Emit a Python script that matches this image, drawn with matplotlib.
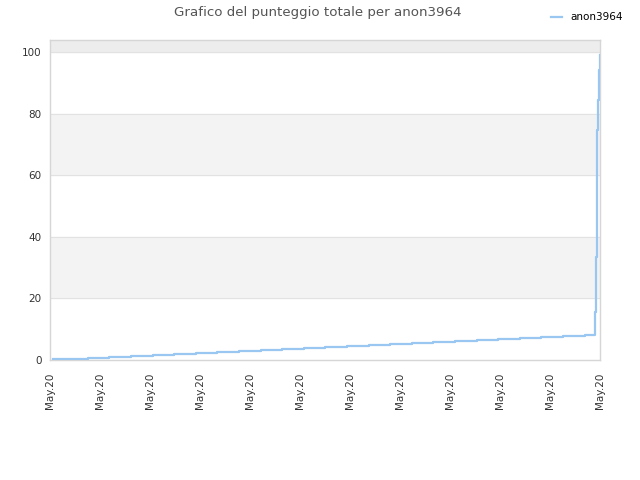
import numpy as np
import matplotlib
matplotlib.use("Agg")
import matplotlib.pyplot as plt

# time of each score change (hours from the first tick) and total score
times = [0.06, 0.32, 0.76, 1.18, 1.62, 2.06, 2.48, 2.92, 3.34, 3.78, 4.22, 4.64,
         5.08, 5.50, 5.94, 6.38, 6.80, 7.24, 7.66, 8.10, 8.54, 8.96, 9.40, 9.82,
         10.26, 10.70, 10.90, 10.92, 10.935, 10.955, 10.975, 10.995]
scores = [0.2, 0.4, 0.75, 1.1, 1.4, 1.7, 2.05, 2.4, 2.7, 3.0, 3.35, 3.65,
          4.0, 4.3, 4.65, 4.95, 5.3, 5.6, 5.95, 6.25, 6.6, 6.9, 7.25, 7.55,
          7.9, 8.2, 15.7, 33.5, 74.7, 84.4, 94.2, 99.0]
tick_pos = list(range(12))
tick_labels = ["May.20"] * 12
y_ticks = [0, 20, 40, 60, 80, 100]
player = "anon3964"

line_color = "#99c7f2"
grid_color = "#e2e2e2"

fig = plt.figure(figsize=(6.4, 4.8), dpi=100)
ax = fig.add_axes([50 / 640, 120 / 480, 550 / 640, 320 / 480])

# alternating background bands
ax.axhspan(20, 40, color="#f3f3f3", zorder=0)
ax.axhspan(60, 80, color="#f3f3f3", zorder=0)
ax.axhspan(100, 104, color="#ededed", zorder=0)
for y in y_ticks[1:]:
    ax.axhline(y, color=grid_color, linewidth=0.8, zorder=1)

ax.step(times, scores, where="post", color=line_color, linewidth=1.6,
        label=player, zorder=3)

ax.set_xlim(0, 11)
ax.set_ylim(0, 104)
ax.set_xticks(tick_pos)
ax.set_xticklabels(tick_labels, rotation=90, fontsize=7.5, color="#333333")
ax.set_yticks(y_ticks)
ax.set_yticklabels([str(v) for v in y_ticks], fontsize=7.5, color="#333333")
ax.tick_params(length=0, pad=6)
ax.tick_params(axis="x", pad=9)

for side in ax.spines.values():
    side.set_color("#d6d6d6")
    side.set_linewidth(1)

fig.text(318 / 640, 1 - 12.5 / 480, "Grafico del punteggio totale per " + player,
         ha="center", va="center", fontsize=9.6, color="#555555")

fig.legend(loc="upper right", bbox_to_anchor=(632 / 640, 1 - 3 / 480),
           frameon=False, fontsize=7.5, handlelength=1.0, handletextpad=0.8)

fig.savefig("out.png", dpi=100)
